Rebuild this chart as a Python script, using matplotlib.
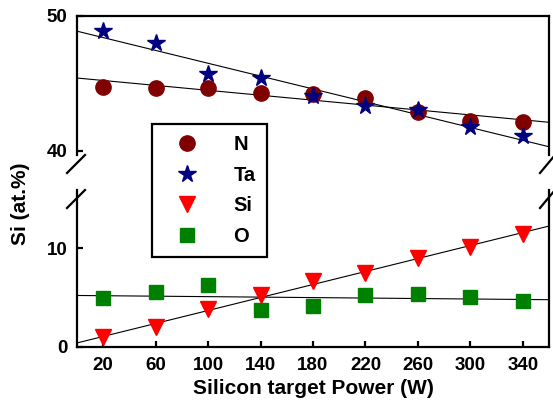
import numpy as np
import matplotlib.pyplot as plt
from matplotlib.lines import Line2D

plt.rcParams['font.family'] = ['Liberation Sans', 'DejaVu Sans']
plt.rcParams['font.weight'] = 'bold'

# silicon target power (W)
power = [20, 60, 100, 140, 180, 220, 260, 300, 340]

# composition (at.%)
n_at = [44.75, 44.7, 44.69, 44.32, 44.22, 43.95, 42.86, 42.25, 42.13]
ta_at = [48.91, 47.98, 45.68, 45.38, 44.1, 43.33, 43.04, 41.8, 41.11]
si_at = [1.0, 1.97, 3.84, 5.25, 6.67, 7.5, 9.02, 10.17, 11.48]
o_at = [4.92, 5.59, 6.23, 3.77, 4.11, 5.22, 5.38, 5.08, 4.65]

xticks = [20, 60, 100, 140, 180, 220, 260, 300, 340]

DARKRED = "#800000"
NAVY = "#000080"
RED = "#FF0000"
GREEN = "#008000"

fig = plt.figure(figsize=(5.53, 4.08), dpi=100)
ax_top = fig.add_axes([0.139, 0.620, 0.854, 0.341])
ax_bot = fig.add_axes([0.139, 0.150, 0.854, 0.384])

xfit = np.array([0, 360])

def fit_line(ax, y):
    k, b = np.polyfit(power, y, 1)
    ax.plot(xfit, k * xfit + b, color='black', lw=0.8, zorder=1)

for y in (n_at, ta_at):
    fit_line(ax_top, y)
for y in (si_at, o_at):
    fit_line(ax_bot, y)

ax_top.plot(power, n_at, 'o', color=DARKRED, ms=11, ls='none', zorder=3)
ax_top.plot(power, ta_at, '*', color=NAVY, ms=13, ls='none', zorder=4)
ax_bot.plot(power, si_at, 'v', color=RED, ms=11, ls='none', zorder=3)
ax_bot.plot(power, o_at, 's', color=GREEN, ms=10, ls='none', zorder=3)

for ax in (ax_top, ax_bot):
    ax.set_xlim(0, 360)
    for sp in ax.spines.values():
        sp.set_linewidth(1.6)
    ax.tick_params(direction='in', width=1.6, length=4, labelsize=13.5, pad=7)

ax_top.set_ylim(39.7, 50)
ax_top.set_yticks([40, 50])
ax_top.spines['bottom'].set_visible(False)
ax_top.tick_params(axis='x', bottom=False, labelbottom=False)

ax_bot.set_ylim(0, 15.9)
ax_bot.set_yticks([0, 10])
ax_bot.spines['top'].set_visible(False)
ax_bot.set_xticks(xticks)
ax_bot.set_xlabel("Silicon target Power (W)", fontsize=15, fontweight='bold', labelpad=4)

fig.text(0.037, 0.50, "Si (at.%)", rotation=90, fontsize=15, fontweight='bold',
         ha='center', va='center')

# axis break marks
for x0, x1 in ((67 / 553, 85 / 553), (540 / 553, 555 / 553)):
    for ya, yb in ((173, 155), (208, 190)):
        fig.add_artist(Line2D([x0, x1], [1 - ya / 408, 1 - yb / 408],
                              color='black', lw=1.6, transform=fig.transFigure,
                              clip_on=False))

handles = [
    Line2D([], [], marker='o', color=DARKRED, ms=11, ls='none'),
    Line2D([], [], marker='*', color=NAVY, ms=13, ls='none'),
    Line2D([], [], marker='v', color=RED, ms=11, ls='none'),
    Line2D([], [], marker='s', color=GREEN, ms=10, ls='none'),
]
leg = fig.legend(handles, ["N", "Ta", "Si", "O"], loc='upper left',
                 bbox_to_anchor=(152 / 553, 1 - 124 / 408), fancybox=False,
                 framealpha=1, edgecolor='black', prop={'size': 14.5, 'weight': 'bold'},
                 borderpad=0.55, labelspacing=0.58, handletextpad=1.1,
                 handlelength=2.4, borderaxespad=0)
leg.get_frame().set_linewidth(1.6)

plt.savefig('out.png', dpi=100)
